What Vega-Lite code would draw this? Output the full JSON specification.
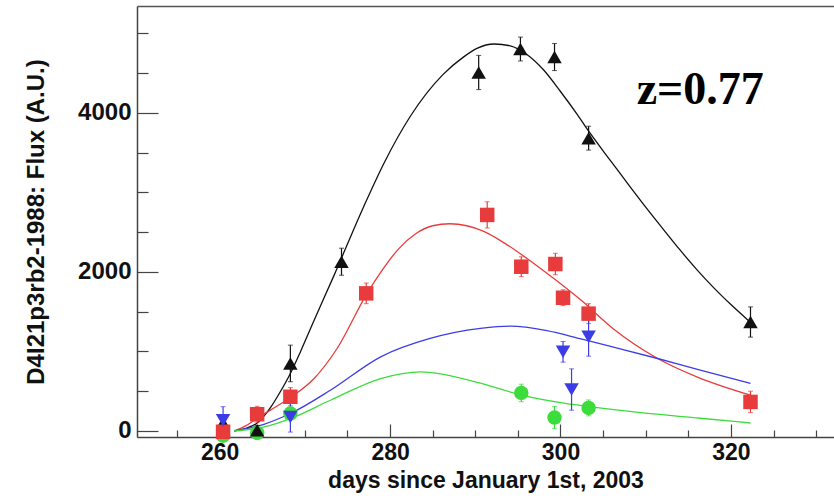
{
  "$schema": "https://vega.github.io/schema/vega-lite/v6.json",
  "width": 697,
  "height": 431,
  "autosize": "none",
  "padding": {"left": 137, "top": 6, "right": 0, "bottom": 61},
  "background": "white",
  "config": {"view": {"stroke": null}},
  "datasets": {
    "pts": [
      {"series": "g", "day": 260.4, "flux": -60, "err": 40},
      {"series": "g", "day": 264.4, "flux": -25, "err": 40},
      {"series": "g", "day": 268.3, "flux": 219, "err": 60},
      {"series": "g", "day": 295.4, "flux": 478, "err": 110},
      {"series": "g", "day": 299.3, "flux": 169, "err": 140},
      {"series": "g", "day": 303.3, "flux": 290, "err": 100},
      {"series": "k", "day": 260.4, "flux": 100, "err": 80},
      {"series": "k", "day": 264.4, "flux": 10, "err": 60},
      {"series": "k", "day": 268.3, "flux": 849, "err": 230},
      {"series": "k", "day": 274.3, "flux": 2128, "err": 170},
      {"series": "k", "day": 290.4, "flux": 4507, "err": 215},
      {"series": "k", "day": 295.3, "flux": 4802, "err": 150},
      {"series": "k", "day": 299.3, "flux": 4701, "err": 170},
      {"series": "k", "day": 303.3, "flux": 3681, "err": 150},
      {"series": "k", "day": 322.3, "flux": 1370, "err": 190},
      {"series": "r", "day": 260.4, "flux": -10, "err": 60},
      {"series": "r", "day": 264.4, "flux": 210, "err": 100},
      {"series": "r", "day": 268.3, "flux": 430, "err": 115},
      {"series": "r", "day": 277.2, "flux": 1730, "err": 130},
      {"series": "r", "day": 291.4, "flux": 2716, "err": 165},
      {"series": "r", "day": 295.4, "flux": 2065, "err": 125},
      {"series": "r", "day": 299.4, "flux": 2099, "err": 135},
      {"series": "r", "day": 300.3, "flux": 1675, "err": 100},
      {"series": "r", "day": 303.3, "flux": 1475, "err": 125},
      {"series": "r", "day": 322.3, "flux": 365, "err": 135},
      {"series": "b", "day": 260.4, "flux": 135, "err": 170},
      {"series": "b", "day": 268.3, "flux": 176, "err": 190},
      {"series": "b", "day": 300.3, "flux": 995, "err": 130},
      {"series": "b", "day": 301.3, "flux": 521, "err": 260},
      {"series": "b", "day": 303.3, "flux": 1185, "err": 245}
    ],
    "curves": [
      {"series": "k", "day": 261.7, "flux": 0},
      {"series": "k", "day": 263.0, "flux": 30},
      {"series": "k", "day": 264.4, "flux": 100},
      {"series": "k", "day": 266.0, "flux": 300},
      {"series": "k", "day": 267.1, "flux": 490},
      {"series": "k", "day": 268.3, "flux": 723},
      {"series": "k", "day": 269.5, "flux": 1000},
      {"series": "k", "day": 271.0, "flux": 1370},
      {"series": "k", "day": 273.4, "flux": 1950},
      {"series": "k", "day": 276.9, "flux": 2820},
      {"series": "k", "day": 279.3, "flux": 3370},
      {"series": "k", "day": 282.4, "flux": 3960},
      {"series": "k", "day": 286.2, "flux": 4480},
      {"series": "k", "day": 288.6, "flux": 4700},
      {"series": "k", "day": 290.2, "flux": 4810},
      {"series": "k", "day": 292.2, "flux": 4865},
      {"series": "k", "day": 294.1, "flux": 4843},
      {"series": "k", "day": 296.1, "flux": 4730},
      {"series": "k", "day": 298.0, "flux": 4541},
      {"series": "k", "day": 300.0, "flux": 4268},
      {"series": "k", "day": 302.0, "flux": 3975},
      {"series": "k", "day": 303.5, "flux": 3740},
      {"series": "k", "day": 304.8, "flux": 3550},
      {"series": "k", "day": 306.0, "flux": 3380},
      {"series": "k", "day": 308.0, "flux": 3095},
      {"series": "k", "day": 310.0, "flux": 2815},
      {"series": "k", "day": 312.0, "flux": 2545},
      {"series": "k", "day": 314.0, "flux": 2279},
      {"series": "k", "day": 316.0, "flux": 2029},
      {"series": "k", "day": 318.0, "flux": 1799},
      {"series": "k", "day": 320.0, "flux": 1589},
      {"series": "k", "day": 322.3, "flux": 1365},
      {"series": "r", "day": 261.7, "flux": 0},
      {"series": "r", "day": 263.0, "flux": 60},
      {"series": "r", "day": 264.4, "flux": 160},
      {"series": "r", "day": 266.0, "flux": 265},
      {"series": "r", "day": 268.3, "flux": 420},
      {"series": "r", "day": 271.0, "flux": 650},
      {"series": "r", "day": 273.8, "flux": 1040},
      {"series": "r", "day": 277.3, "flux": 1730},
      {"series": "r", "day": 279.0, "flux": 2010},
      {"series": "r", "day": 281.0, "flux": 2290},
      {"series": "r", "day": 283.0, "flux": 2480},
      {"series": "r", "day": 285.0, "flux": 2580},
      {"series": "r", "day": 287.0, "flux": 2605},
      {"series": "r", "day": 289.0, "flux": 2580},
      {"series": "r", "day": 291.0, "flux": 2510},
      {"series": "r", "day": 294.0, "flux": 2322},
      {"series": "r", "day": 297.9, "flux": 2024},
      {"series": "r", "day": 302.4, "flux": 1645},
      {"series": "r", "day": 306.3, "flux": 1275},
      {"series": "r", "day": 311.4, "flux": 911},
      {"series": "r", "day": 316.0, "flux": 680},
      {"series": "r", "day": 322.3, "flux": 449},
      {"series": "b", "day": 261.7, "flux": 0},
      {"series": "b", "day": 265.2, "flux": 84},
      {"series": "b", "day": 268.3, "flux": 219},
      {"series": "b", "day": 273.0, "flux": 512},
      {"series": "b", "day": 278.9, "flux": 932},
      {"series": "b", "day": 284.7, "flux": 1163},
      {"series": "b", "day": 290.6, "flux": 1289},
      {"series": "b", "day": 294.1, "flux": 1318},
      {"series": "b", "day": 298.4, "flux": 1262},
      {"series": "b", "day": 302.3, "flux": 1160},
      {"series": "b", "day": 306.0, "flux": 1060},
      {"series": "b", "day": 311.4, "flux": 911},
      {"series": "b", "day": 316.4, "flux": 764},
      {"series": "b", "day": 322.3, "flux": 597},
      {"series": "g", "day": 261.7, "flux": 0},
      {"series": "g", "day": 265.2, "flux": 50},
      {"series": "g", "day": 268.3, "flux": 156},
      {"series": "g", "day": 273.0, "flux": 386},
      {"series": "g", "day": 278.9, "flux": 659},
      {"series": "g", "day": 283.6, "flux": 743},
      {"series": "g", "day": 285.1, "flux": 730},
      {"series": "g", "day": 290.6, "flux": 600},
      {"series": "g", "day": 295.3, "flux": 455},
      {"series": "g", "day": 300.4, "flux": 350},
      {"series": "g", "day": 305.0, "flux": 285},
      {"series": "g", "day": 309.4, "flux": 230},
      {"series": "g", "day": 316.4, "flux": 160},
      {"series": "g", "day": 322.3, "flux": 100}
    ],
    "note": [{"label": "z=0.77", "day": 316.4, "flux": 4289}]
  },
  "resolve": {"axis": {"x": "independent", "y": "independent"}},
  "layer": [
    {
      "data": {"name": "curves"},
      "mark": {"type": "line", "interpolate": "monotone", "strokeWidth": 1.3},
      "encoding": {
        "x": {
          "field": "day", "type": "quantitative",
          "scale": {"domain": [250.3, 332.1], "nice": false, "zero": false},
          "axis": {
            "orient": "bottom", "values": [260, 280, 300, 320], "grid": false, "format": "d",
            "tickSize": -13, "tickColor": "#444", "tickWidth": 1.2,
            "domainColor": "#444", "domainWidth": 1.5,
            "labelFont": "Liberation Sans", "labelFontWeight": "bold", "labelFontSize": 23,
            "labelColor": "#111", "labelPadding": 17, "labelFlush": false,
            "title": "days since January 1st, 2003",
            "titleFont": "Liberation Sans", "titleFontWeight": "bold", "titleFontSize": 23,
            "titleColor": "#111", "titleBaseline": "alphabetic", "titleY": 50, "titleX": 348.5
          }
        },
        "y": {
          "field": "flux", "type": "quantitative",
          "scale": {"domain": [-76, 5343], "nice": false, "zero": false},
          "axis": {
            "orient": "left", "values": [0, 2000, 4000], "grid": false, "format": "d",
            "tickSize": -21, "tickColor": "#444", "tickWidth": 1.2,
            "domainColor": "#444", "domainWidth": 1.5,
            "labelFont": "Liberation Sans", "labelFontWeight": "bold", "labelFontSize": 24,
            "labelColor": "#111", "labelPadding": 27, "labelFlush": false,
            "title": "D4I21p3rb2-1988:  Flux (A.U.)",
            "titleFont": "Liberation Sans", "titleFontWeight": "bold", "titleFontSize": 24,
            "titleColor": "#111", "titleBaseline": "alphabetic", "titleAngle": -90,
            "titleX": -94, "titleY": 215.5, "titleAlign": "center"
          }
        },
        "color": {
          "field": "series", "type": "nominal", "legend": null,
          "scale": {"domain": ["k", "r", "b", "g"], "range": ["#111111", "#e83c3c", "#3c3ce6", "#3cdc3c"]}
        },
        "detail": {"field": "series"}
      }
    },
    {
      "data": {"name": "pts"},
      "mark": {"type": "errorbar", "ticks": {"size": 5, "thickness": 1}, "thickness": 1.2},
      "encoding": {
        "x": {"field": "day", "type": "quantitative", "axis": null,
              "scale": {"domain": [250.3, 332.1], "nice": false, "zero": false}},
        "y": {"field": "flux", "type": "quantitative", "axis": null,
              "scale": {"domain": [-76, 5343], "nice": false, "zero": false}},
        "yError": {"field": "err"},
        "color": {
          "field": "series", "type": "nominal", "legend": null,
          "scale": {"domain": ["k", "r", "b", "g"], "range": ["#555555", "#f05050", "#4050e0", "#30d030"]}
        }
      }
    },
    {
      "data": {"name": "pts"},
      "mark": {"type": "point", "filled": true, "opacity": 1, "size": 210},
      "encoding": {
        "x": {
          "field": "day", "type": "quantitative",
          "scale": {"domain": [250.3, 332.1], "nice": false, "zero": false},
          "axis": {
            "orient": "bottom", "values": [255, 265, 270, 275, 285, 290, 295, 305, 310, 315, 325, 330],
            "grid": false, "tickSize": -7, "tickColor": "#444", "tickWidth": 1.2,
            "domain": false, "labels": false, "title": null
          }
        },
        "y": {
          "field": "flux", "type": "quantitative",
          "scale": {"domain": [-76, 5343], "nice": false, "zero": false},
          "axis": {
            "orient": "left", "values": [500, 1000, 1500, 2500, 3000, 3500, 4500, 5000],
            "grid": false, "tickSize": -11, "tickColor": "#444", "tickWidth": 1.2,
            "domain": false, "labels": false, "title": null
          }
        },
        "shape": {
          "field": "series", "type": "nominal", "legend": null,
          "scale": {"domain": ["k", "r", "b", "g"], "range": ["triangle-up", "square", "triangle-down", "circle"]}
        },
        "color": {
          "field": "series", "type": "nominal", "legend": null,
          "scale": {"domain": ["k", "r", "b", "g"], "range": ["#000000", "#ff2200", "#1414f0", "#00e600"]}
        }
      }
    },
    {
      "data": {"name": "note"},
      "mark": {"type": "text", "font": "Liberation Serif", "fontWeight": "bold", "fontSize": 46,
               "align": "center", "baseline": "middle", "color": "#000"},
      "encoding": {
        "x": {
          "field": "day", "type": "quantitative",
          "scale": {"domain": [250.3, 332.1], "nice": false, "zero": false},
          "axis": {"orient": "top", "ticks": false, "labels": false, "grid": false,
                   "domainColor": "#555", "domainWidth": 1.5, "title": null}
        },
        "y": {
          "field": "flux", "type": "quantitative", "axis": null,
          "scale": {"domain": [-76, 5343], "nice": false, "zero": false}
        },
        "text": {"field": "label"}
      }
    }
  ]
}
